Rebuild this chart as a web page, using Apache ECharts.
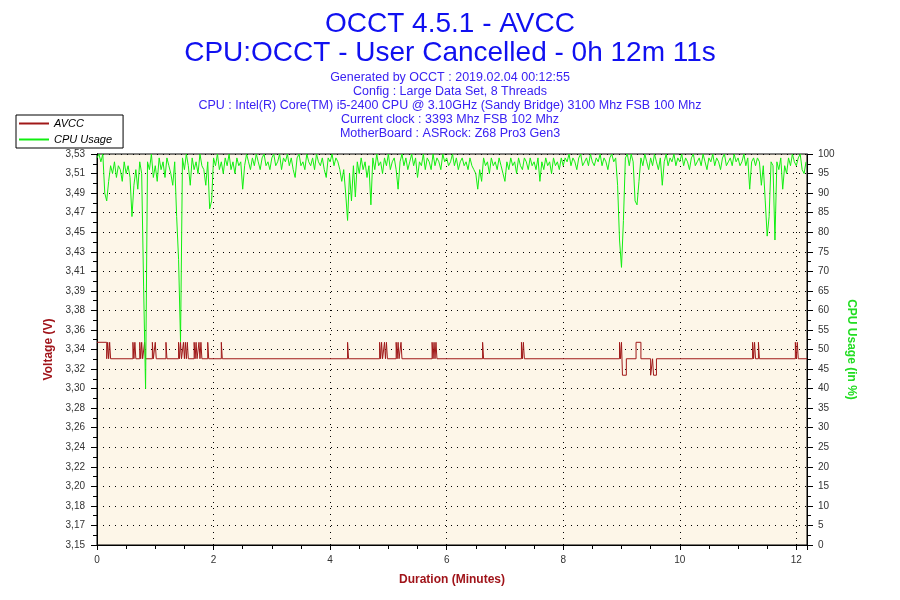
<!DOCTYPE html>
<html>
<head>
<meta charset="utf-8">
<script src="https://cdn.jsdelivr.net/npm/echarts@6/dist/echarts.min.js"></script>
<style>
html,body{margin:0;padding:0;background:#fff;}
#chart{width:900px;height:600px;}
</style>
</head>
<body>
<div id="chart"></div>
<script>
const titleLines = ['OCCT 4.5.1 - AVCC', 'CPU:OCCT - User Cancelled - 0h 12m 11s'];
const infoLines = [
  'Generated by OCCT : 2019.02.04 00:12:55',
  'Config : Large Data Set, 8 Threads',
  'CPU : Intel(R) Core(TM) i5-2400 CPU @ 3.10GHz (Sandy Bridge) 3100 Mhz FSB 100 Mhz',
  'Current clock : 3393 Mhz FSB 102 Mhz',
  'MotherBoard : ASRock: Z68 Pro3 Gen3'
];
const seriesNames = ['AVCC', 'CPU Usage'];
const axisNames = { x: 'Duration (Minutes)', volt: 'Voltage (V)', cpu: 'CPU Usage (in %)' };

// Left axis tick labels (bottom to top)
const voltLabels = ['3,15','3,17','3,18','3,20','3,22','3,24','3,26','3,28','3,30','3,32','3,34',
                    '3,36','3,38','3,39','3,41','3,43','3,45','3,47','3,49','3,51','3,53'];
const voltMin = 3.147, voltStep = 0.019;
const durationSec = 731;

// AVCC readings: time (s) where the reading changes, and the reading
const voltSec = [0,10,11,12,13,14,
  37,38,39,40,44,45,46,47,49,50,57,58,60,61,71,72,
  84,85,86,87,89,90,91,92,93,94,
  100,101,102,103,105,106,107,108,114,115,128,129,
  258,259,291,292,293,294,296,297,298,299,
  308,309,310,311,313,314,345,346,347,348,349,350,
  397,398,437,438,439,440,538,539,
  540,541,545,555,560,570,572,573,576,
  675,676,677,678,681,682,719,720,721,722,731];
const voltVal = [3.344,3.328,3.344,3.328,3.344,3.328,
  3.344,3.328,3.344,3.328,3.344,3.328,3.344,3.328,3.344,3.328,3.344,3.328,3.344,3.328,3.344,3.328,
  3.344,3.328,3.344,3.328,3.344,3.328,3.344,3.328,3.344,3.328,
  3.344,3.328,3.344,3.328,3.344,3.328,3.344,3.328,3.344,3.328,3.344,3.328,
  3.344,3.328,3.344,3.328,3.344,3.328,3.344,3.328,3.344,3.328,
  3.344,3.328,3.344,3.328,3.344,3.328,3.344,3.328,3.344,3.328,3.344,3.328,
  3.344,3.328,3.344,3.328,3.344,3.328,3.344,3.328,
  3.344,3.312,3.328,3.344,3.328,3.312,3.328,3.312,3.328,
  3.344,3.328,3.344,3.328,3.344,3.328,3.344,3.328,3.344,3.328,3.328];

// CPU usage (%), one reading every 2 s
const cpuStepSec = 2;
const cpuUsage = [
  99,100,98,100,90,88,93,97,95,98,94,97,96,93,98,95,97,94,84,92,96,91,98,95,66,40,98,96,100,94,
  97,93,99,96,98,94,99,97,95,92,98,84,73,52,99,96,100,97,92,99,96,98,95,100,97,96,92,98,86,88,
  99,97,100,96,98,95,99,97,100,96,98,95,99,97,98,91,97,100,98,96,99,97,100,98,96,99,100,97,98,96,
  99,100,97,98,100,96,99,98,100,97,99,96,94,99,100,97,98,96,100,98,97,99,96,100,98,97,99,96,94,99,
  98,100,97,99,98,96,93,96,90,83,95,88,97,89,98,95,99,96,98,94,97,87,99,96,100,97,98,95,99,97,
  100,96,98,99,96,91,98,100,97,99,96,98,100,97,99,94,98,97,100,96,99,98,96,100,97,99,98,96,100,98,
  99,97,98,100,97,99,96,98,99,97,98,96,99,97,96,95,91,96,93,99,97,98,95,99,97,98,96,99,97,95,
  93,98,96,99,97,98,95,99,97,96,99,98,96,99,97,98,96,99,93,98,96,99,97,98,95,99,97,98,96,99,
  97,99,98,100,97,99,98,96,99,100,97,98,99,97,100,98,97,99,98,100,97,99,98,96,99,100,98,99,92,78,
  71,83,99,100,97,100,98,88,87,93,99,97,100,98,96,99,97,100,98,96,99,92,98,100,97,99,98,100,97,99,
  98,100,97,99,98,96,99,100,97,98,99,97,100,98,96,99,98,100,97,99,98,96,99,100,97,98,99,97,100,98,
  99,97,98,100,97,99,91,98,99,97,99,98,92,97,88,79,84,98,97,78,98,96,99,91,97,95,99,97,100,98,
  97,99,100,96,95,98
];

const voltData = voltSec.map((s, i) => [s / 60, voltVal[i]]);
const cpuData = cpuUsage.map((v, i) => [i * cpuStepSec / 60, v]);
const voltTicks = voltLabels.map((_, k) => voltMin + k * voltStep);

const FONT = 'Liberation Sans';
const dotted = { type: [1, 5], color: '#000', width: 1 };
const colors = ['#a01818', '#11ee11'];

const chart = echarts.init(document.getElementById('chart'), null, { renderer: 'canvas' });
chart.setOption({
  animation: false,
  backgroundColor: '#ffffff',
  textStyle: { fontFamily: FONT },
  title: [
    { text: titleLines.join('\n'), left: 'center', top: 5,
      textStyle: { fontFamily: FONT, fontSize: 28, lineHeight: 29, fontWeight: 'normal', color: '#1010f0' } },
    { text: infoLines.join('\n'), left: 'center', top: 66,
      textStyle: { fontFamily: FONT, fontSize: 12.5, lineHeight: 14, fontWeight: 'normal', color: '#3a22f2' } }
  ],
  legend: {
    left: 16, top: 115, orient: 'vertical',
    padding: [3, 11, 3, 3], itemGap: 5, itemWidth: 30, itemHeight: 2,
    backgroundColor: '#fff', borderColor: '#000', borderWidth: 1, borderRadius: 0,
    textStyle: { fontFamily: FONT, fontStyle: 'italic', fontSize: 11, color: '#000' },
    data: [
      { name: seriesNames[0], icon: 'rect', itemStyle: { color: colors[0], borderWidth: 0 } },
      { name: seriesNames[1], icon: 'rect', itemStyle: { color: colors[1], borderWidth: 0 } }
    ],
    z: 10
  },
  grid: { left: 97, right: 93, top: 154, bottom: 55, show: true,
          backgroundColor: '#fdf6e8', borderColor: '#000', borderWidth: 1 },
  xAxis: {
    type: 'value', min: 0, max: durationSec / 60, interval: 2,
    name: axisNames.x, nameLocation: 'middle', nameGap: 29,
    nameTextStyle: { fontFamily: FONT, fontSize: 12, fontWeight: 'bold', color: '#a0141a' },
    axisLine: { lineStyle: { color: '#000', width: 1 } },
    axisTick: { length: 5, lineStyle: { color: '#000' } },
    minorTick: { show: true, splitNumber: 4, length: 4, lineStyle: { color: '#000' } },
    axisLabel: { fontSize: 10, color: '#333', margin: 10, showMaxLabel: false },
    splitLine: { show: true, lineStyle: dotted }
  },
  yAxis: [
    { type: 'value', position: 'left', min: voltMin, max: voltMin + 20 * voltStep,
      name: axisNames.volt, nameLocation: 'middle', nameGap: 40,
      nameTextStyle: { fontFamily: FONT, fontSize: 12, fontWeight: 'bold', color: '#a0141a' },
      axisLine: { show: true, lineStyle: { color: '#000' } },
      axisTick: { show: false },
      axisLabel: { fontSize: 10, color: '#333', margin: 12, customValues: voltTicks,
        formatter: v => voltLabels[Math.round((v - voltMin) / voltStep)] },
      splitLine: { show: false } },
    { type: 'value', position: 'right', min: 0, max: 100, interval: 5,
      name: axisNames.cpu, nameLocation: 'middle', nameGap: 38, nameRotate: -90,
      nameTextStyle: { fontFamily: FONT, fontSize: 12, fontWeight: 'bold', color: '#22dd22' },
      axisLine: { show: true, lineStyle: { color: '#000' } },
      axisTick: { show: true, length: 6, lineStyle: { color: '#000' } },
      minorTick: { show: true, splitNumber: 2, length: 4, lineStyle: { color: '#000' } },
      axisLabel: { fontSize: 10, color: '#333', margin: 11 },
      splitLine: { show: true, lineStyle: dotted } },
    { type: 'value', position: 'left', min: 0, max: 100, interval: 5,
      axisLine: { show: true, lineStyle: { color: '#000' } },
      axisTick: { show: true, length: 6, lineStyle: { color: '#000' } },
      minorTick: { show: true, splitNumber: 2, length: 4, lineStyle: { color: '#000' } },
      axisLabel: { show: false }, splitLine: { show: false } }
  ],
  series: [
    { name: seriesNames[0], type: 'line', yAxisIndex: 0, data: voltData, step: 'end',
      showSymbol: false, symbol: 'none', color: colors[0],
      lineStyle: { width: 1, color: colors[0] }, z: 2 },
    { name: seriesNames[1], type: 'line', yAxisIndex: 1, data: cpuData,
      showSymbol: false, symbol: 'none', color: colors[1],
      lineStyle: { width: 1, color: colors[1] }, z: 3 }
  ]
});
</script>
</body>
</html>
